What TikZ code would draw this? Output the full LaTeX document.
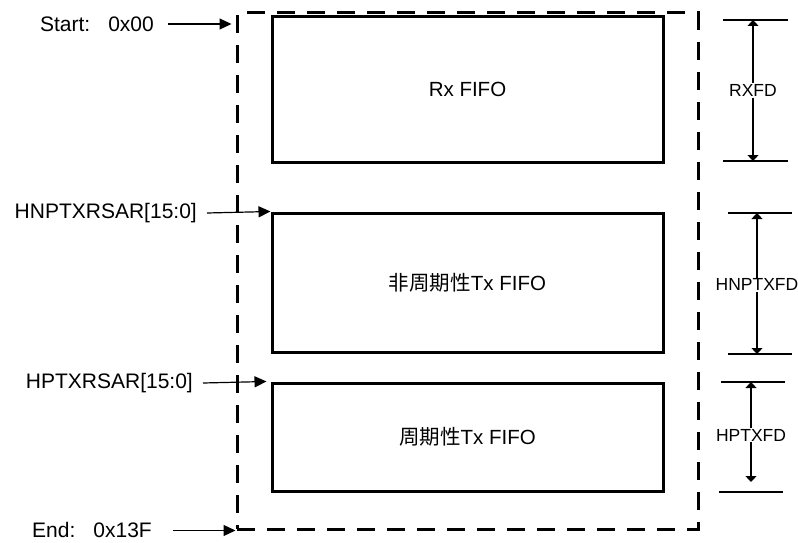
\documentclass[tikz,border=0pt]{standalone}
\usepackage{fontspec}
\setmainfont{Liberation Sans}
\newfontfamily\cjk{Noto Sans CJK SC}
\usetikzlibrary{arrows.meta}
\begin{document}
\begin{tikzpicture}[x=1pt,y=-1pt,
  fifo/.style={draw, line width=3pt, inner sep=0pt, minimum width=391pt, font=\fontsize{20.5}{24}\selectfont},
  memarea/.style={draw, line width=3pt, dash pattern=on 18pt off 12pt, inner sep=0pt, minimum width=461pt, minimum height=516pt},
  lbl/.style={inner sep=0pt, font=\fontsize{21}{25}\selectfont},
  dimlbl/.style={fill=white, inner sep=1pt, font=\fontsize{17.5}{21}\selectfont},
  ptr/.style={line width=1.2pt, -{Triangle[length=12pt,width=11pt]}},
  dimarr/.style={line width=1.2pt, {Triangle[length=6pt,width=11pt]}-{Triangle[length=6pt,width=11pt]}},
  tick/.style={line width=1.2pt}]
\useasboundingbox (0,0) rectangle (798,543);

% memory area
\node[memarea] (mem) at (467.5,271) {};

% FIFO boxes
\node[fifo, minimum height=145pt] (rx) at (467.5,89.5) {Rx FIFO};
\node[fifo, minimum height=139pt] (np) at (467.5,282.5) {{\cjk 非周期性}Tx FIFO};
\node[fifo, minimum height=108pt] (pt) at (467.5,437) {{\cjk 周期性}Tx FIFO};

% left labels
\node[lbl, anchor=east] (start) at (154,24) {Start:\hspace{18pt}0x00};
\node[lbl, anchor=east] (hnp) at (197,213) {HNPTXRSAR[15:0]};
\node[lbl, anchor=east] (hp) at (193,383) {HPTXRSAR[15:0]};
\node[lbl, anchor=east] (endl) at (152,530) {End:\hspace{18pt}0x13F};

\draw[ptr] ([xshift=14pt]start.east) -- ([xshift=-4pt]start.east -| mem.west);
\draw[ptr] ([xshift=10pt]hnp.east) -- (np.north west);
\draw[ptr] ([xshift=10pt]hp.east) -- ([xshift=-4pt]pt.north west);
\draw[ptr] ([xshift=21pt]endl.east |- mem.south west) -- (mem.south west);

% dimension marks
\coordinate (r1a) at (723,20);  \coordinate (r1b) at (788,20);
\coordinate (r2a) at (723,161); \coordinate (r2b) at (788,161);
\draw[tick] (r1a) -- (r1b);
\draw[tick] (r2a) -- (r2b);
\coordinate (ra) at (753,20); \coordinate (rb) at (753,161);
\draw[dimarr] (ra) -- node[dimlbl] (rxfd) {RXFD} (rb);

\coordinate (n1a) at (728,213); \coordinate (n1b) at (792,213);
\coordinate (n2a) at (728,354); \coordinate (n2b) at (792,354);
\draw[tick] (n1a) -- (n1b);
\draw[tick] (n2a) -- (n2b);
\coordinate (na) at (757,213); \coordinate (nb) at (757,354);
\draw[dimarr] (na) -- node[dimlbl, pos=0.51] (hnptxfd) {HNPTXFD} (nb);

\coordinate (p1a) at (721,382); \coordinate (p1b) at (785,382);
\coordinate (p2a) at (719,492); \coordinate (p2b) at (783,492);
\draw[tick] (p1a) -- (p1b);
\draw[tick] (p2a) -- (p2b);
\coordinate (pa) at (751,382); \coordinate (pb) at (751,482);
\draw[dimarr] (pa) -- node[dimlbl, pos=0.53] (hptxfd) {HPTXFD} (pb);
\end{tikzpicture}
\end{document}
